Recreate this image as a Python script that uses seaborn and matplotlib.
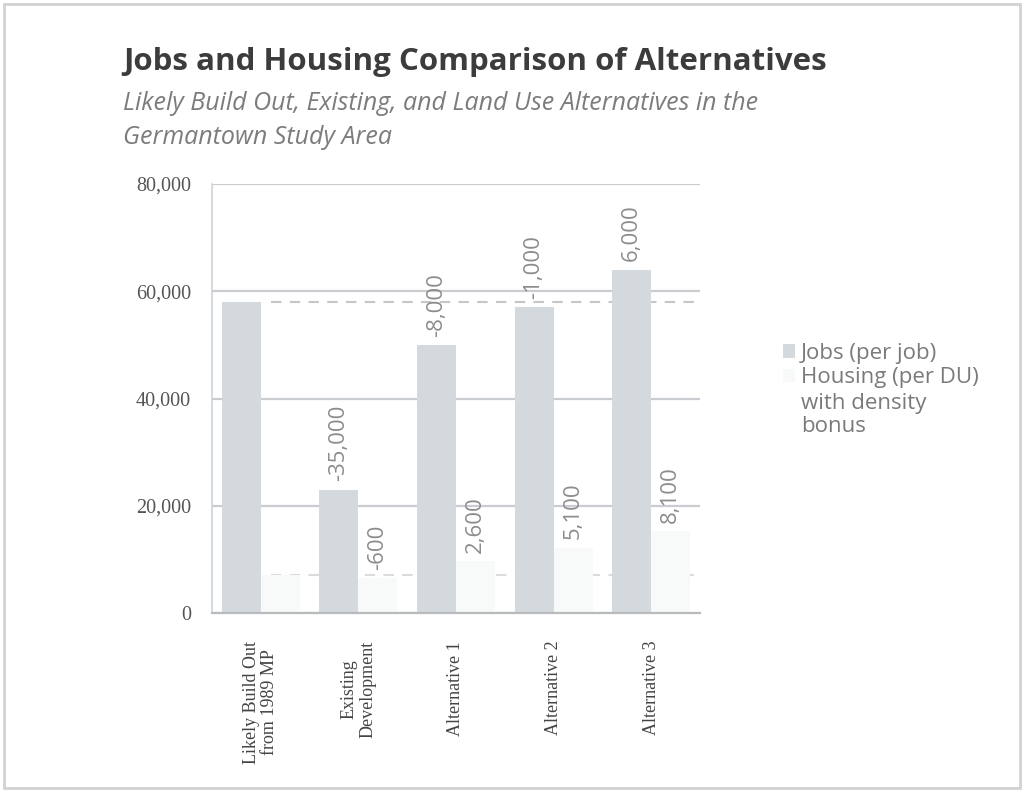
import numpy as np
import pandas as pd
import matplotlib
matplotlib.use("Agg")
from matplotlib import pyplot as plt
from matplotlib.patches import Rectangle
import seaborn as sns

# values
categories = [
    "Likely Build Out\nfrom 1989 MP",
    "Existing\nDevelopment",
    "Alternative 1",
    "Alternative 2",
    "Alternative 3",
]
jobs = [58000, 23000, 50000, 57000, 64000]
housing = [7100, 6500, 9700, 12200, 15200]
series_names = ["Jobs (per job)", "Housing (per DU)"]
legend_extra = "with density\nbonus"
y_ticks = [0, 20000, 40000, 60000, 80000]

title = "Jobs and Housing Comparison of Alternatives"
subtitle = [
    "Likely Build Out, Existing, and Land Use Alternatives in the",
    "Germantown Study Area",
]

jobs_color = "#d4d9dd"
housing_color = "#f8f9f9"

sns.set_style("white")
plt.rcParams["font.family"] = ["Open Sans", "DejaVu Sans"]

df = pd.DataFrame(
    {
        "category": categories * 2,
        "value": jobs + housing,
        "series": [series_names[0]] * len(jobs) + [series_names[1]] * len(housing),
    }
)

fig = plt.figure(figsize=(10.24, 7.92), dpi=100)
ax = fig.add_axes([212 / 1024, 1 - 613 / 792, 488 / 1024, 429 / 792])

sns.barplot(
    data=df,
    x="category",
    y="value",
    hue="series",
    palette=[jobs_color, housing_color],
    saturation=1,
    width=0.8,
    linewidth=0,
    ax=ax,
    zorder=2,
)

# baseline reference lines (Likely Build Out values)
ax.hlines(jobs[0], 0.1, 4.5, colors="#c3c7cb", linestyles=(0, (5, 4)), lw=1.5, zorder=1)
ax.hlines(housing[0], 0.1, 4.5, colors="#d9dcdf", linestyles=(0, (5, 4)), lw=1.5, zorder=1)

# change labels relative to baseline
for container, vals in zip(ax.containers, [jobs, housing]):
    labels = ["" if i == 0 else f"{v - vals[0]:,}" for i, v in enumerate(vals)]
    ax.bar_label(
        container,
        labels=labels,
        rotation=90,
        padding=6,
        color="#8c8c8c",
        fontsize=16,
    )

ax.set_ylim(0, 80000)
ax.set_xlim(-0.5, 4.5)
ax.set_yticks(y_ticks)
ax.set_yticklabels([f"{v:,}" for v in y_ticks], fontsize=14.5, color="#555555",
                   fontfamily="Liberation Serif")
ax.set_xticks(range(len(categories)))
ax.set_xticklabels(categories, rotation=90, va="top", ha="center", fontsize=13,
                   color="#444444", fontfamily="Liberation Serif", linespacing=1.1)
ax.tick_params(axis="x", length=0, pad=20)
ax.tick_params(axis="y", length=5, width=1, color="#c8c8c8", pad=10)
ax.set_xlabel("")
ax.set_ylabel("")

ax.yaxis.grid(True, color="#c9ccd0", lw=1.6)
ax.set_axisbelow(True)
sns.despine(ax=ax, top=True, right=True)
ax.spines["left"].set_color("#d0d3d6")
ax.spines["left"].set_linewidth(1.2)
ax.spines["bottom"].set_color("#b8bbbe")
ax.spines["bottom"].set_linewidth(1.6)

handles, _ = ax.get_legend_handles_labels()
handles[1].set_edgecolor("#eceef0")
leg = ax.legend(
    handles,
    series_names,
    loc="upper left",
    bbox_to_anchor=(783 / 1024, 1 - 343 / 792),
    bbox_transform=fig.transFigure,
    frameon=False,
    borderpad=0,
    borderaxespad=0,
    handlelength=0.55,
    handleheight=0.55,
    handletextpad=0.25,
    labelspacing=0.15,
    labelcolor="#7a7a7a",
    prop={"family": "Open Sans", "size": 16},
)
fig.text(801 / 1024, 1 - 415 / 792, legend_extra, fontsize=16, color="#7a7a7a",
         va="center", ha="left", linespacing=1.17)

fig.text(123 / 1024, 1 - 62 / 792, title, fontsize=22.5, fontweight="bold",
         color="#3c3c3c", va="center", ha="left")
for i, line in enumerate(subtitle):
    fig.text(123 / 1024, 1 - (103 + 35 * i) / 792, line, fontsize=18,
             fontstyle="italic", color="#7c7c7c", va="center", ha="left")

fig.patches.append(
    Rectangle((0.004, 0.005), 0.992, 0.99, transform=fig.transFigure,
              fill=False, ec="#d2d2d2", lw=2)
)

fig.savefig("out.png", dpi=100, facecolor="white")
